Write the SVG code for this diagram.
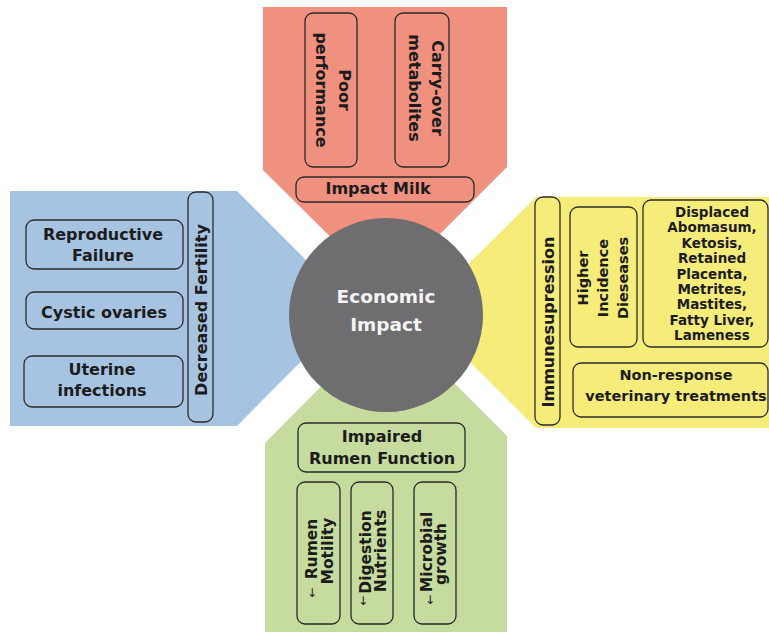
<svg xmlns="http://www.w3.org/2000/svg" width="769" height="634" viewBox="0 0 769 634">
<style>
text{font-family:"DejaVu Sans","Verdana",sans-serif;font-weight:bold;fill:#1c1c1c;text-anchor:middle}
.b{fill:none;stroke:#2a2a2a;stroke-width:1.3}
.f16{font-size:16px}
.f15{font-size:15.5px}
.f14{font-size:14.5px}
.f13{font-size:13.5px}
.ar{font-size:12px;font-weight:normal}
.w{fill:#f4f4f4;font-size:18.5px}
</style>
<rect width="769" height="634" fill="#ffffff"/>
<g id="sectors">
<polygon id="sector-milk" points="263,7 507,7 507,167 384,290 263,170" fill="#F0907F"/>
<polygon id="sector-fertility" points="10,191 237,191 354,308 237,426 10,426" fill="#A7C3E2"/>
<polygon id="sector-immune" points="769,197 536,197 420,312 536,428 769,428" fill="#F6EC7A"/>
<polygon id="sector-rumen" points="265,632 507,632 507,436 389,318 265,443" fill="#C6DB9E"/>
</g>
<g id="center">
<circle cx="386" cy="315" r="97" fill="#6E6E70"/>
<text class="w" x="386" y="303">Economic</text>
<text class="w" x="386" y="331">Impact</text>
</g>
<g id="poor-performance">
<rect class="b" x="305" y="13" width="52" height="154" rx="8"/>
<text class="f16" transform="translate(339,90) rotate(90)">Poor</text>
<text class="f16" transform="translate(316,90) rotate(90)">performance</text>
</g>
<g id="carry-over">
<rect class="b" x="395" y="13" width="54" height="154" rx="8"/>
<text class="f16" transform="translate(432,88) rotate(90)">Carry-over</text>
<text class="f16" transform="translate(409,88) rotate(90)">metabolites</text>
</g>
<g id="impact-milk">
<rect class="b" x="296" y="177" width="178" height="25" rx="8"/>
<text class="f16" x="378" y="194">Impact Milk</text>
</g>
<g id="decreased-fertility">
<rect class="b" x="188" y="192" width="25" height="230" rx="8"/>
<text class="f16" transform="translate(207,310) rotate(-90)">Decreased Fertility</text>
</g>
<g id="reproductive-failure">
<rect class="b" x="26" y="220" width="157" height="49" rx="8"/>
<text class="f16" x="103" y="240">Reproductive</text>
<text class="f16" x="103" y="261">Failure</text>
</g>
<g id="cystic-ovaries">
<rect class="b" x="26" y="292" width="157" height="37" rx="8"/>
<text class="f16" x="104" y="318">Cystic ovaries</text>
</g>
<g id="uterine-infections">
<rect class="b" x="24" y="356" width="159" height="51" rx="8"/>
<text class="f16" x="102" y="375">Uterine</text>
<text class="f16" x="102" y="396">infections</text>
</g>
<g id="immunesupression">
<rect class="b" x="535" y="197" width="25" height="228" rx="8"/>
<text class="f16" transform="translate(554,322) rotate(-90)">Immunesupression</text>
</g>
<g id="higher-incidence">
<rect class="b" x="570" y="207" width="67" height="140" rx="8"/>
<text class="f14" transform="translate(588,278) rotate(-90)">Higher</text>
<text class="f14" transform="translate(608,278) rotate(-90)">Incidence</text>
<text class="f14" transform="translate(628,278) rotate(-90)">Dieseases</text>
</g>
<g id="diseases-list">
<rect class="b" x="643" y="200" width="125" height="147" rx="8"/>
<text class="f13" x="712" y="217">Displaced</text>
<text class="f13" x="712" y="232.4">Abomasum,</text>
<text class="f13" x="712" y="247.8">Ketosis,</text>
<text class="f13" x="712" y="263.2">Retained</text>
<text class="f13" x="712" y="278.6">Placenta,</text>
<text class="f13" x="712" y="294">Metrites,</text>
<text class="f13" x="712" y="309.4">Mastites,</text>
<text class="f13" x="712" y="324.8">Fatty Liver,</text>
<text class="f13" x="712" y="340.2">Lameness</text>
</g>
<g id="non-response">
<rect class="b" x="573" y="363" width="195" height="54" rx="8"/>
<text class="f14" x="676" y="380">Non-response</text>
<text class="f14" x="676" y="401">veterinary treatments</text>
</g>
<g id="impaired-rumen">
<rect class="b" x="298" y="423" width="167" height="49" rx="8"/>
<text class="f16" x="382" y="442">Impaired</text>
<text class="f16" x="382" y="464">Rumen Function</text>
</g>
<g id="rumen-motility">
<rect class="b" x="297" y="482" width="43" height="142" rx="8"/>
<text class="ar" x="312" y="597">↓</text>
<text class="f15" transform="translate(317,549) rotate(-90)">Rumen</text>
<text class="f15" transform="translate(333,551) rotate(-90)">Motility</text>
</g>
<g id="digestion-nutrients">
<rect class="b" x="351" y="482" width="42" height="142" rx="8"/>
<text class="ar" x="363" y="605">↓</text>
<text class="f15" transform="translate(371,552) rotate(-90)">Digestion</text>
<text class="f15" transform="translate(386,551) rotate(-90)">Nutrients</text>
</g>
<g id="microbial-growth">
<rect class="b" x="414" y="482" width="42" height="142" rx="8"/>
<text class="ar" x="430" y="604">↓</text>
<text class="f15" transform="translate(432,552) rotate(-90)">Microbial</text>
<text class="f15" transform="translate(446,554) rotate(-90)">growth</text>
</g>
<g id="connectors"></g>
</svg>
